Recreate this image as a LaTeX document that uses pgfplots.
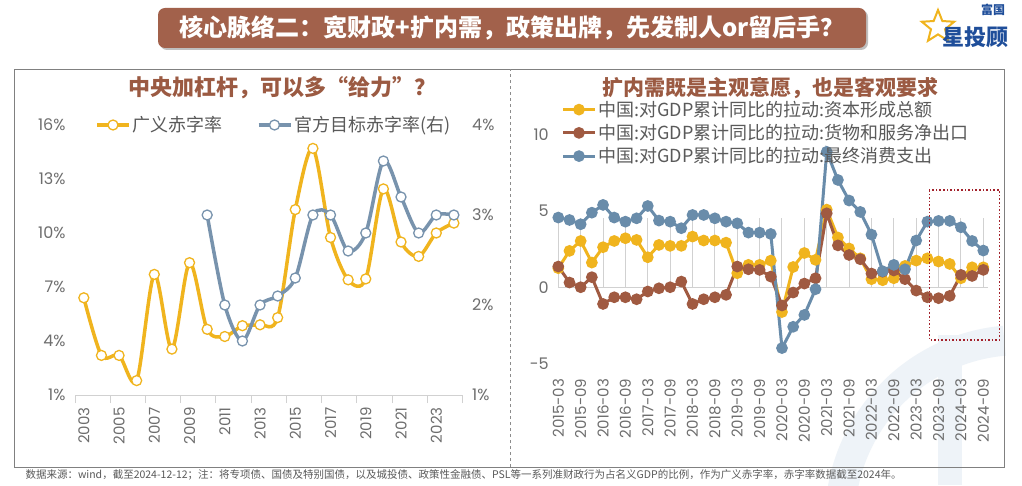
\documentclass[border=0pt]{standalone}
\usepackage{pgfplots}
\pgfplotsset{compat=1.18}
\usepackage{fontspec}
\setmainfont{Noto Sans CJK SC}
\newfontfamily\numfont{Poppins}
\usetikzlibrary{shapes.geometric}
\definecolor{cyel}{HTML}{F0B41E}
\definecolor{cbrn}{HTML}{A05A41}
\definecolor{cblu}{HTML}{698CAA}
\definecolor{cblu2}{HTML}{7893AD}
\definecolor{ctitle}{HTML}{9B5A42}
\definecolor{cbar}{HTML}{A2614B}
\definecolor{ctick}{HTML}{6E6E6E}
\definecolor{cleg}{HTML}{5A5A5A}
\definecolor{cwm}{HTML}{EEF3F8}
\definecolor{clogo}{HTML}{1F4E9A}
\definecolor{cbox}{HTML}{A3222C}

\pgfplotstableread{
year val
2003 6.4
2004 3.2
2005 3.2
2006 1.8
2007 7.7
2008 3.55
2009 8.35
2010 4.65
2011 4.25
2012 4.85
2013 4.9
2014 5.3
2015 11.3
2016 14.7
2017 9.75
2018 7.4
2019 7.45
2020 12.45
2021 9.5
2022 8.7
2023 10.0
2024 10.55
}\broad

\pgfplotstableread{
year val
2010 3.0
2011 2.0
2012 1.6
2013 2.0
2014 2.1
2015 2.3
2016 3.0
2017 3.0
2018 2.6
2019 2.8
2020 3.6
2021 3.2
2022 2.8
2023 3.0
2024 3.0
}\official

\pgfplotstableread{
idx cap net cons
0 1.25 1.36 4.58
1 2.39 0.31 4.42
2 3.04 0.0 4.14
3 1.62 0.66 4.9
4 2.63 -1.1 5.41
5 3.04 -0.66 4.58
6 3.22 -0.66 4.31
7 3.11 -0.79 4.53
8 1.97 -0.28 5.34
9 2.78 -0.07 4.38
10 2.72 0.0 4.31
11 2.72 0.37 3.88
12 3.33 -1.1 4.75
13 3.07 -0.79 4.75
14 3.07 -0.66 4.53
15 2.93 -0.5 4.31
16 0.92 1.36 4.2
17 1.47 1.18 3.59
18 1.47 1.14 3.59
19 1.75 0.7 3.5
20 -1.63 -1.2 -4.0
21 1.33 -0.35 -2.6
22 2.25 0.24 -1.82
23 1.8 0.59 -0.13
24 5.1 4.86 8.9
25 3.27 2.75 7.05
26 2.55 2.12 5.7
27 1.9 1.84 4.95
28 0.53 0.9 3.46
29 0.46 1.02 1.05
30 0.59 1.1 1.47
31 1.4 0.53 1.18
32 1.75 -0.22 3.07
33 1.9 -0.66 4.31
34 1.69 -0.72 4.36
35 1.53 -0.57 4.36
36 0.59 0.81 3.94
37 1.31 0.74 3.04
38 1.31 1.14 2.41
}\contrib

\begin{document}
\begin{tikzpicture}[x=1pt,y=1pt]
\fill[white] (0,0) rectangle (1022,485);
% faint watermark
\begin{scope}
\clip (0,0) rectangle (1022,485);
\draw[cwm, line width=30pt] (1004.3,144.3) arc[start angle=95,end angle=185,radius=180];
\fill[cwm] (938,0) rectangle (962,150);
\end{scope}

% title bar
\fill[black!25, rounded corners=7pt] (160,435) rectangle (868,475);
\fill[cbar, rounded corners=7pt] (158,437) rectangle (866,477);
\node[text=white, font=\fontsize{24}{26}\selectfont\bfseries] at (512,457) {核心脉络二：宽财政+扩内需，政策出牌，先发制人or留后手？};

% logo
\node[star, star points=5, star point ratio=2.3, draw=cyel, line width=2pt, minimum size=34pt, inner sep=0pt] at (938,458) {};
\node[text=clogo, font=\fontsize{12}{12}\selectfont\bfseries] at (993,475) {富国};
\node[text=clogo, font=\fontsize{22}{22}\selectfont\bfseries] at (975,448) {星投顾};

% frame and separator
\draw[black!50, line width=0.9pt] (14,18) rectangle (1004,416);
\draw[black!45, dashed, line width=0.8pt] (510,18) -- (510,416);

% panel titles
\node[text=ctitle, font=\fontsize{22}{24}\selectfont\bfseries] at (282,397) {中央加杠杆，可以多“给力”？};
\node[text=ctitle, font=\fontsize{21}{23}\selectfont\bfseries] at (770,397) {扩内需既是主观意愿，也是客观要求};

% footer
\node[anchor=west, text=black!65, font=\fontsize{10.5}{12}\selectfont] at (22,10) {数据来源：wind，截至2024-12-12；注：将专项债、国债及特别国债，以及城投债、政策性金融债、PSL等一系列准财政行为占名义GDP的比例，作为广义赤字率，赤字率数据截至2024年。};

% ---------- left chart ----------
\begin{axis}[
  at={(75pt,90pt)}, anchor=south west,
  width=387.7pt, height=270pt, scale only axis,
  xmin=2002.5, xmax=2024.5, ymin=1, ymax=16,
  axis y line*=left, axis x line*=bottom,
  y axis line style={draw=none},
  x axis line style={draw=black!18, line width=1pt},
  xtick={2003,2005,...,2023},
  xticklabels={2003,2005,2007,2009,2011,2013,2015,2017,2019,2021,2023},
  minor xtick={2002.5,2004.5,...,2024.5},
  xticklabel style={rotate=90, anchor=east, font=\numfont\fontsize{15}{15}\selectfont, text=ctick},
  xticklabel shift=9pt,
  major tick length=0pt,
  minor tick length=8pt, tick align=outside,
  minor x tick style={draw=black!18, line width=1pt},
  ytick={1,4,7,10,13,16},
  yticklabels={1\%,4\%,7\%,10\%,13\%,16\%},
  yticklabel style={font=\numfont\fontsize{16}{16}\selectfont, text=ctick},
  yticklabel shift=6pt,
  clip=false,
  legend image code/.code={\draw[mark repeat=2,mark phase=2,#1] plot coordinates {(0pt,0pt) (16pt,0pt) (32pt,0pt)};},
  legend style={at={(0.044,1)}, anchor=west, draw=none, fill=none,
    font=\fontsize{18}{18}\selectfont, text=cleg, legend columns=2,
    /tikz/every even column/.append style={column sep=32pt}},
]
\addplot[cyel, line width=3.5pt, smooth, mark=*, mark size=5pt, mark options={fill=white, draw=cyel, line width=1.3pt}] table[x=year,y=val] {\broad};
\addlegendentry{广义赤字率}
\addlegendimage{cblu2, line width=3.5pt, mark=*, mark size=5pt, mark options={fill=white, draw=cblu2, line width=1.3pt}}
\addlegendentry{官方目标赤字率(右)}
\end{axis}

\begin{axis}[
  at={(75pt,90pt)}, anchor=south west,
  width=387.7pt, height=270pt, scale only axis,
  xmin=2002.5, xmax=2024.5, ymin=1, ymax=4,
  axis y line*=right, axis x line=none,
  y axis line style={draw=none},
  ytick={1,2,3,4},
  yticklabels={1\%,2\%,3\%,4\%},
  yticklabel style={font=\numfont\fontsize{16}{16}\selectfont, text=ctick},
  yticklabel shift=6pt,
  major tick length=0pt,
  clip=false,
]
\addplot[cblu2, line width=3.5pt, smooth, mark=*, mark size=5pt, mark options={fill=white, draw=cblu2, line width=1.3pt}] table[x=year,y=val] {\official};
\end{axis}

% ---------- right chart ----------
\begin{axis}[
  at={(558.3pt,121.7pt)}, anchor=south west,
  width=425pt, height=266.25pt, scale only axis,
  xmin=0, xmax=38, ymin=-5, ymax=12.5,
  axis line style={draw=none},
  xtick={0,2,...,38},
  xticklabels={2015-03,2015-09,2016-03,2016-09,2017-03,2017-09,2018-03,2018-09,2019-03,2019-09,2020-03,2020-09,2021-03,2021-09,2022-03,2022-09,2023-03,2023-09,2024-03,2024-09},
  xticklabel style={rotate=90, anchor=east, font=\numfont\fontsize{15}{15}\selectfont, text=ctick},
  xticklabel shift=12pt,
  ytick={-5,0,5,10},
  yticklabels={-5,0,5,10},
  yticklabel style={font=\numfont\fontsize{16}{16}\selectfont, text=ctick},
  yticklabel shift=6pt,
  major tick length=0pt,
  clip=false,
  legend image code/.code={\draw[mark repeat=2,mark phase=2,#1] plot coordinates {(0pt,0pt) (16pt,0pt) (32pt,0pt)};},
  legend style={at={(0,1.0)}, anchor=north west, draw=none, fill=none,
    font=\fontsize{18}{18}\selectfont, text=cleg, row sep=2.5pt},
  legend cell align=left,
]
\draw[black!18, line width=1pt] (axis cs:0,0) -- (axis cs:38.4,0);
\pgfplotsinvokeforeach{0,2,...,38}{\draw[black!18, line width=1pt] (axis cs:#1,0) -- ++(0,-7pt);}
\addplot[cyel, line width=3pt, mark=*, mark size=4.3pt, mark options={fill=cyel, draw=cyel}] table[x=idx,y=cap] {\contrib};
\addlegendentry{中国:对GDP累计同比的拉动:资本形成总额}
\addplot[cbrn, line width=3pt, mark=*, mark size=4.3pt, mark options={fill=cbrn, draw=cbrn}] table[x=idx,y=net] {\contrib};
\addlegendentry{中国:对GDP累计同比的拉动:货物和服务净出口}
\addplot[cblu, line width=3pt, mark=*, mark size=4.3pt, mark options={fill=cblu, draw=cblu}] table[x=idx,y=cons] {\contrib};
\addlegendentry{中国:对GDP累计同比的拉动:最终消费支出}
\end{axis}

% highlight box
\draw[cbox, dotted, line width=1.6pt] (929.3,295) rectangle (999.3,145);
\end{tikzpicture}
\end{document}
